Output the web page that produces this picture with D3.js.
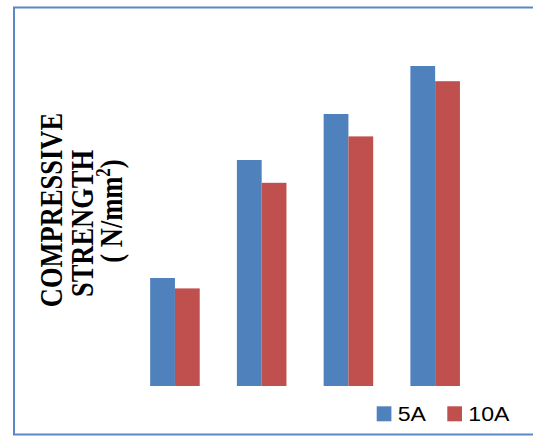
<!DOCTYPE html>
<html>
<head>
<meta charset="utf-8">
<script src="https://cdn.jsdelivr.net/npm/d3@7"></script>
<style>
  html, body { margin: 0; padding: 0; background: #ffffff; }
  svg { display: block; }
</style>
</head>
<body>
<svg id="chart" width="533" height="437"></svg>
<script>
// Compressive strength of the four mixes, two current settings
const categories = ["1", "2", "3", "4"];
const seriesNames = ["5A", "10A"];
const values5A = [13.5, 28.25, 34.0, 40.0];
const values10A = [12.2, 25.4, 31.2, 38.1];
const seriesColors = ["#4F81BD", "#C0504D"];

const seriesValues = [values5A, values10A];
const rows = categories.map((c, i) => ({
  category: c,
  values: seriesNames.map((s, j) => ({ series: s, value: seriesValues[j][i] }))
}));

const svg = d3.select("#chart");

// outer frame
svg.append("rect")
  .attr("x", 14).attr("y", 7.5)
  .attr("width", 600).attr("height", 427)
  .attr("fill", "none")
  .attr("stroke", "#5b87c6")
  .attr("stroke-width", 2);

const x0 = d3.scaleBand()
  .domain(categories)
  .range([131.6, 478.5])
  .paddingInner(0.4286)
  .paddingOuter(0.214);

const x1 = d3.scaleBand()
  .domain(seriesNames)
  .range([0, x0.bandwidth()]);

const y = d3.scaleLinear()
  .domain([0, 45])
  .range([386, 26]);

const color = d3.scaleOrdinal().domain(seriesNames).range(seriesColors);

const groups = svg.append("g")
  .selectAll("g")
  .data(rows)
  .join("g")
  .attr("transform", d => `translate(${x0(d.category)},0)`);

groups.selectAll("rect")
  .data(d => d.values)
  .join("rect")
  .attr("x", d => x1(d.series))
  .attr("y", d => y(d.value))
  .attr("width", x1.bandwidth())
  .attr("height", d => y(0) - y(d.value))
  .attr("fill", d => color(d.series));

// vertical axis title
const titleFont = "'Liberation Serif', 'Times New Roman', serif";
const titleLines = [
  { text: "COMPRESSIVE", x: 62, cy: 210 },
  { text: "STRENGTH", x: 92.5, cy: 223.5 },
  { text: null, x: 122, cy: 211 }
];
titleLines.forEach(l => {
  const t = svg.append("text")
    .attr("transform", `translate(${l.x},${l.cy}) scale(1.18,1) rotate(-90)`)
    .attr("text-anchor", "middle")
    .attr("font-family", titleFont)
    .attr("font-weight", "bold")
    .attr("font-size", 26.5)
    .attr("fill", "#000");
  if (l.text) {
    t.text(l.text);
  } else {
    t.append("tspan").text("( N/mm");
    t.append("tspan").attr("font-size", 17).attr("dy", -10).text("2");
    t.append("tspan").attr("dy", 10).text(")");
  }
});

// legend
const legendX = [376.7, 447.3];
const legend = svg.append("g")
  .selectAll("g")
  .data(seriesNames)
  .join("g")
  .attr("transform", (d, i) => `translate(${legendX[i]},406.3)`);

legend.append("rect")
  .attr("width", 14.7).attr("height", 15)
  .attr("fill", d => color(d));

legend.append("text")
  .attr("transform", "translate(21,15) scale(1.1,1)")
  .attr("font-family", "'Liberation Sans', Arial, sans-serif")
  .attr("font-size", 21)
  .attr("fill", "#000")
  .text(d => d);
</script>
</body>
</html>
